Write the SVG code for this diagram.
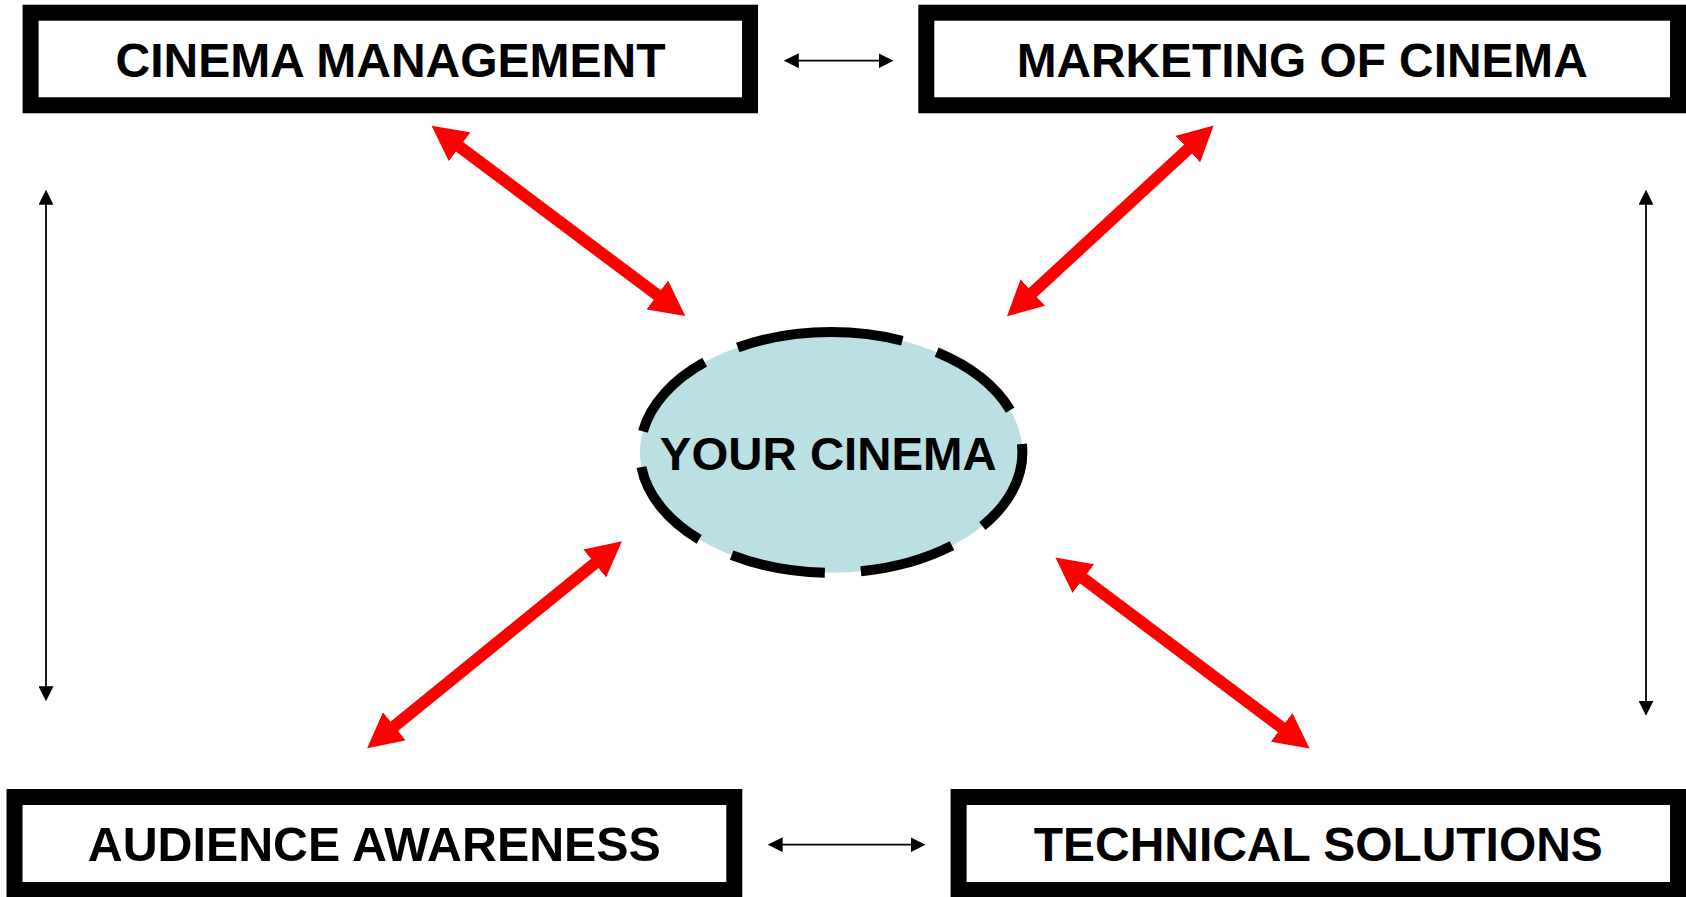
<svg xmlns="http://www.w3.org/2000/svg" width="1686" height="897" viewBox="0 0 1686 897">
  <style>
    .box { fill: #FFFFFF; stroke: #000000; stroke-width: 16; }
    .label { font-family: "Liberation Sans", Arial, sans-serif; font-weight: bold; font-size: 48px; fill: #000000; text-anchor: middle; }
    .center-label { font-family: "Liberation Sans", Arial, sans-serif; font-weight: bold; font-size: 47px; fill: #000000; text-anchor: middle; }
    .red { stroke: #FF0000; stroke-width: 12; fill: none; marker-start: url(#redhead); marker-end: url(#redhead); }
    .thin { stroke: #000000; stroke-width: 1.8; fill: none; marker-start: url(#blackhead); marker-end: url(#blackhead); }
  </style>
  <defs>
    <marker id="redhead" viewBox="0 -18 35 36" markerWidth="35" markerHeight="36" refX="0.5" refY="0" orient="auto-start-reverse" markerUnits="userSpaceOnUse">
      <path d="M0,-18 L35,0 L0,18 Z" fill="#FF0000"/>
    </marker>
    <marker id="blackhead" viewBox="0 -7.5 15 15" markerWidth="15" markerHeight="15" refX="0.5" refY="0" orient="auto-start-reverse" markerUnits="userSpaceOnUse">
      <path d="M0,-7.5 L15,0 L0,7.5 Z" fill="#000000"/>
    </marker>
  </defs>
  <rect width="1686" height="897" fill="#FFFFFF"/>

  <g id="connectors">
    <line class="red" x1="459.2" y1="146.5" x2="657.7" y2="295.3"/>
    <line class="red" x1="1188.3" y1="148.8" x2="1032.4" y2="292.9"/>
    <line class="red" x1="595.1" y1="563.1" x2="393.9" y2="726.6"/>
    <line class="red" x1="1083" y1="578.3" x2="1282" y2="727.7"/>
    <line class="thin" x1="798.3" y1="60.7" x2="879" y2="60.7"/>
    <line class="thin" x1="782.2" y1="844.7" x2="911" y2="844.7"/>
    <line class="thin" x1="46" y1="204.3" x2="46" y2="686.7"/>
    <line class="thin" x1="1646" y1="204.3" x2="1646" y2="701.3"/>
  </g>

  <g id="node-cinema-management">
    <rect class="box" x="30.6" y="12.7" width="719.4" height="92.6"/>
    <text class="label" x="390.5" y="77.3" textLength="550" lengthAdjust="spacingAndGlyphs">CINEMA MANAGEMENT</text>
  </g>

  <g id="node-marketing">
    <rect class="box" x="926.3" y="12.7" width="751.7" height="92.6"/>
    <text class="label" x="1302.2" y="77.3" textLength="571" lengthAdjust="spacingAndGlyphs">MARKETING OF CINEMA</text>
  </g>

  <g id="node-audience">
    <rect class="box" x="14.5" y="797" width="719.8" height="93"/>
    <text class="label" x="374.3" y="861" textLength="573" lengthAdjust="spacingAndGlyphs">AUDIENCE AWARENESS</text>
  </g>

  <g id="node-technical">
    <rect class="box" x="958.6" y="797" width="719.4" height="93"/>
    <text class="label" x="1318.3" y="861" textLength="569" lengthAdjust="spacingAndGlyphs">TECHNICAL SOLUTIONS</text>
  </g>

  <g id="node-your-cinema">
    <ellipse cx="831.2" cy="452.4" rx="191.2" ry="120.3" fill="#BAE0E3"/>
    <path d="M831.2,332.1 A191.2,120.3 0 0 0 640,452.4 A191.2,120.3 0 0 0 831.2,572.7 A191.2,120.3 0 0 0 1022.4,452.4 A191.2,120.3 0 0 0 831.2,332.1 Z" fill="none" stroke="#000000" stroke-width="10" pathLength="1000" stroke-dasharray="96 36.5"/>
    <text class="center-label" x="828.3" y="469.5" textLength="337" lengthAdjust="spacingAndGlyphs">YOUR CINEMA</text>
  </g>
</svg>
